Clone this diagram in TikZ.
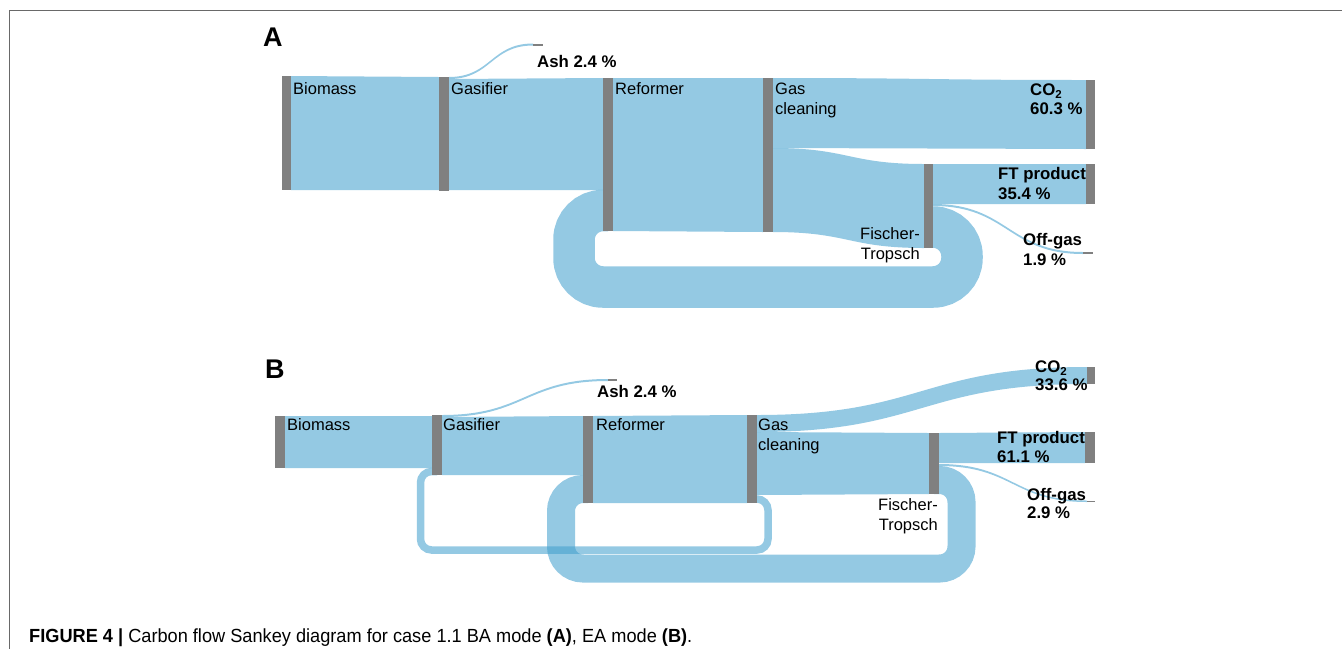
\documentclass[tikz,border=0pt]{standalone}
\usepackage{fontspec}
\setmainfont{Liberation Sans}
\usepackage{graphicx}
\definecolor{flowc}{RGB}{61,157,204}
\definecolor{barc}{RGB}{128,128,128}
\definecolor{framec}{RGB}{105,105,105}
\tikzset{
  flow/.style={fill=flowc, fill opacity=0.55, draw=none},
  loopband/.style={draw=flowc, draw opacity=0.55, line cap=butt},
  skbar/.style={rectangle, fill=barc, draw=none, inner sep=0pt, outer sep=0pt},
  lab/.style={inner sep=0pt, anchor=base west, text=black, font=\fontsize{16.5}{19}\selectfont},
  blab/.style={lab, font=\fontsize{16.8}{19}\selectfont\bfseries},
  rlab/.style={lab, anchor=base east},
  panel/.style={inner sep=0pt, anchor=base west, font=\fontsize{27}{27}\selectfont\bfseries},
}
\newcommand\skbar[5]{\node[skbar, minimum width={(#4-#2)*1pt}, minimum height={(#5-#3)*1pt}] (#1) at ({(#2+#4)/2},{(#3+#5)/2}) {};}
\newcommand\skflow[6]{\fill[flow] (#1,#2) .. controls ({(#1+#4)/2},#2) and ({(#1+#4)/2},#5) .. (#4,#5) -- (#4,#6) .. controls ({(#1+#4)/2},#6) and ({(#1+#4)/2},#3) .. (#1,#3) -- cycle;}
\newcommand\cotwo{CO\raisebox{-0.35ex}{\fontsize{11.5}{11.5}\selectfont 2}}
\begin{document}
\begin{tikzpicture}[x=1pt,y=-1pt]
\useasboundingbox (0,0) rectangle (1342,649);
% frame
\draw[framec, line width=1.3pt] (1342,10.5) -- (9.5,10.5) -- (9.5,649);

% ---------------- Panel A ----------------
\skflow{291}{76}{190}{439}{77}{190}
\skflow{449}{77}{79}{533}{43.5}{45.5}
\skflow{449}{79}{190}{603}{78}{190}
\skflow{613}{78}{231}{763}{78}{232}
\skflow{773}{78}{148}{1086}{80}{149}
\skflow{773}{148}{232}{924}{164}{248}
\skflow{933}{164}{204}{1086}{164}{204}
\skflow{933}{204}{206}{1083}{252}{254}
\draw[loopband, line width=41.5pt, rounded corners=29pt] (928,227) -- (962,227) -- (962,287) -- (574,287) -- (574,210.5) -- (608,210.5);

\skbar{bioA}{282}{76}{291}{190}
\skbar{gasA}{439}{77}{449}{190.5}
\skbar{ashA}{533}{43.5}{543}{45.5}
\skbar{refA}{603}{77.5}{613}{231}
\skbar{gclA}{763}{78}{773}{232}
\skbar{co2A}{1086}{80}{1095}{149}
\skbar{ftA}{924}{164}{933}{248}
\skbar{ftpA}{1086}{164}{1095}{204}
\skbar{offA}{1083}{252}{1093}{254}

\node[panel] (pA) at (263,46.7) {A};
\node[lab] (lbioA) at (293,94) {Biomass};
\node[lab] (lgasA) at (451,94) {Gasifier};
\node[lab] (lrefA) at (615,94) {Reformer};
\node[lab] (lgclA1) at (775,94) {Gas};
\node[lab] (lgclA2) at (775,114) {cleaning};
\node[blab] (lashA) at (537,67.7) {Ash 2.4 \%};
\node[blab] (lco2A1) at (1030,95) {\cotwo};
\node[blab] (lco2A2) at (1030,114.5) {60.3 \%};
\node[blab] (lftpA1) at (998,179.3) {FT product};
\node[blab] (lftpA2) at (998,199.3) {35.4 \%};
\node[rlab] (lftA1) at (920,239.3) {Fischer-};
\node[rlab] (lftA2) at (920,259) {Tropsch};
\node[blab] (loffA1) at (1023,245) {Off-gas};
\node[blab] (loffA2) at (1023,265.5) {1.9 \%};

% ---------------- Panel B ----------------
\skflow{285}{416}{468}{432}{416}{468}
\skflow{442}{415}{417}{608}{379}{381}
\skflow{442}{417}{475}{583}{416}{475}
\skflow{593}{416}{503}{747}{415}{503}
\skflow{757}{415}{432}{1087}{367}{384}
\skflow{757}{432}{495}{929}{433}{494}
\skflow{939}{433}{463}{1085}{432}{463}
\skflow{939}{464}{466}{1087}{500.5}{502}
\draw[loopband, line width=28pt, rounded corners=22pt] (934,480) -- (961.5,480) -- (961.5,568.5) -- (561,568.5) -- (561,489) -- (588,489);
\draw[loopband, line width=7.5pt, rounded corners=11pt] (750,499) -- (768,499) -- (768,550) -- (420.5,550) -- (420.5,471.5) -- (437,471.5);

\skbar{bioB}{275}{416}{285}{468}
\skbar{gasB}{432}{415}{442}{475}
\skbar{ashB}{608}{379}{617}{381}
\skbar{refB}{583}{416}{593}{503}
\skbar{gclB}{747}{415}{757}{503}
\skbar{co2B}{1087}{367}{1095}{384}
\skbar{ftB}{929}{433}{939}{494}
\skbar{ftpB}{1085}{432}{1095}{463}
\skbar{offB}{1087}{500.5}{1095}{502}

\node[panel] (pB) at (265,378) {B};
\node[lab] (lbioB) at (287,430.7) {Biomass};
\node[lab] (lgasB) at (443,430.7) {Gasifier};
\node[lab] (lrefB) at (596,430.7) {Reformer};
\node[lab] (lgclB1) at (758,430.7) {Gas};
\node[lab] (lgclB2) at (758,450) {cleaning};
\node[blab] (lashB) at (597,397.7) {Ash 2.4 \%};
\node[blab] (lco2B1) at (1035,372.3) {\cotwo};
\node[blab] (lco2B2) at (1035,390.7) {33.6 \%};
\node[blab] (lftpB1) at (997,443.3) {FT product};
\node[blab] (lftpB2) at (997,462.3) {61.1 \%};
\node[rlab] (lftB1) at (938,510.7) {Fischer-};
\node[rlab] (lftB2) at (938,530) {Tropsch};
\node[blab] (loffB1) at (1027,500) {Off-gas};
\node[blab] (loffB2) at (1027,518.3) {2.9 \%};

% caption
\node[inner sep=0pt, anchor=base west] (cap) at (29,642.5) {\resizebox{663pt}{\height}{\fontsize{19}{19}\selectfont\textbf{FIGURE 4 |} Carbon flow Sankey diagram for case 1.1 BA mode \textbf{(A)}, EA mode \textbf{(B)}.}};
\end{tikzpicture}
\end{document}
